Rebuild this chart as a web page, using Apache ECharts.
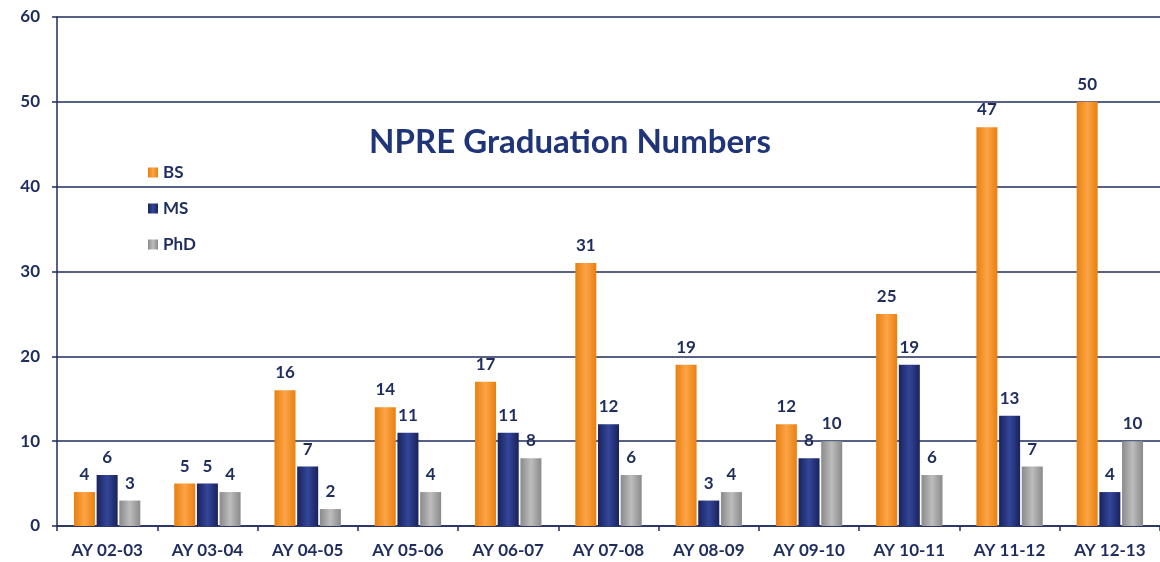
<!DOCTYPE html>
<html>
<head>
<meta charset="utf-8">
<script src="https://cdn.jsdelivr.net/npm/echarts@6/dist/echarts.min.js"></script>
<style>
  html, body { margin: 0; padding: 0; background: #fff; }
  #chart { width: 1160px; height: 562px; }
</style>
</head>
<body>
<div id="chart"></div>
<script>
// NPRE graduation numbers per academic year
const years = ['AY 02-03', 'AY 03-04', 'AY 04-05', 'AY 05-06', 'AY 06-07', 'AY 07-08',
               'AY 08-09', 'AY 09-10', 'AY 10-11', 'AY 11-12', 'AY 12-13'];
const bsValues = [4, 5, 16, 14, 17, 31, 19, 12, 25, 47, 50];
const msValues = [6, 5, 7, 11, 11, 12, 3, 8, 19, 13, 4];
const phdValues = [3, 4, 2, 4, 8, 6, 4, 10, 6, 7, 10];

const navy = '#1f2d5e';
const font = 'Lato, "Open Sans", sans-serif';

// horizontal shading to mimic the bevelled bars
function shade(edge, mid) {
    return new echarts.graphic.LinearGradient(0, 0, 1, 0, [
        { offset: 0, color: edge },
        { offset: 0.5, color: mid },
        { offset: 1, color: edge }
    ]);
}

function barSeries(name, data, edge, mid) {
    return {
        name, type: 'bar', data,
        barWidth: 21, barGap: '8%',
        itemStyle: { color: shade(edge, mid) },
        label: {
            show: true, position: 'top', distance: 9,
            color: navy, fontFamily: font, fontWeight: 'bold', fontSize: 17
        }
    };
}

const chart = echarts.init(document.getElementById('chart'));
chart.setOption({
    backgroundColor: '#fff',
    animation: false,
    title: {
        text: 'NPRE Graduation Numbers',
        left: 565, top: 121, textAlign: 'center',
        textStyle: { color: '#1f3578', fontFamily: font, fontWeight: 'bold', fontSize: 33 }
    },
    legend: {
        orient: 'vertical', left: 143, top: 158,
        itemWidth: 10, itemHeight: 10, itemGap: 17,
        icon: 'rect',
        textStyle: { color: navy, fontFamily: font, fontWeight: 'bold', fontSize: 17, lineHeight: 19 },
        data: ['BS', 'MS', 'PhD']
    },
    grid: { left: 57, right: 0, top: 17, bottom: 36, containLabel: false },
    xAxis: {
        type: 'category', data: years,
        axisLine: { lineStyle: { color: navy, width: 1.5 } },
        axisTick: { show: true, length: 5, lineStyle: { color: navy, width: 1.5 } },
        axisLabel: { color: navy, fontFamily: font, fontWeight: 'bold', fontSize: 17, margin: 16 }
    },
    yAxis: {
        type: 'value', min: 0, max: 60, interval: 10,
        axisLine: { show: true, lineStyle: { color: navy, width: 1.5 } },
        axisTick: { show: true, length: 5, lineStyle: { color: navy, width: 1.5 } },
        splitLine: { lineStyle: { color: navy, width: 1.5 } },
        axisLabel: { color: navy, fontFamily: font, fontWeight: 'bold', fontSize: 17, margin: 17 }
    },
    series: [
        barSeries('BS', bsValues, '#e8800f', '#fca446'),
        barSeries('MS', msValues, '#18225c', '#34469a'),
        barSeries('PhD', phdValues, '#8a8a8a', '#bdbdbd')
    ]
});
</script>
</body>
</html>
